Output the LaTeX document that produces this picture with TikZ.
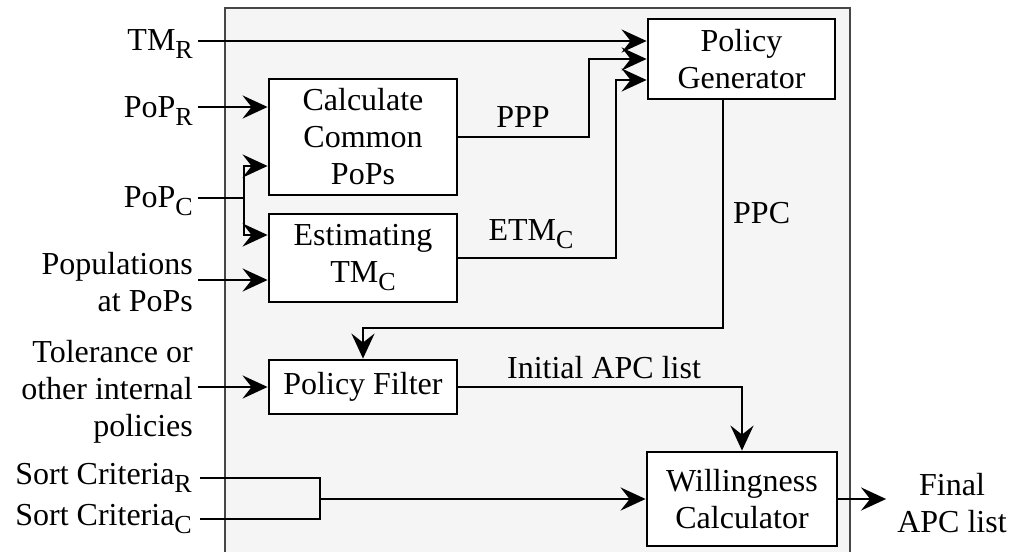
\documentclass[tikz,border=0pt]{standalone}
\usepackage{fontspec}
\setmainfont{Liberation Serif}
\usetikzlibrary{arrows.meta,calc}
\newcommand\sbx[1]{\raisebox{-8pt}{\fontsize{26}{26}\selectfont #1}}
\begin{document}
\begin{tikzpicture}[x=1pt,y=-1pt,
  font=\fontsize{32}{37}\selectfont,
  blk/.style={draw=black,fill=white,line width=2.8pt,inner sep=0pt,align=center},
  arr/.style={line width=2.8pt,-{Stealth[length=25pt,width=23pt,inset=9pt]}},
  ln/.style={line width=2.8pt},
  txt/.style={inner sep=0pt},
  intxt/.style={inner sep=0pt,align=right}]
\useasboundingbox (0,0) rectangle (1013,552);
\draw[draw=black!72,fill=black!4,line width=2pt] (225,8) rectangle (850,575);

% blocks
\node[blk,minimum width=187pt,minimum height=80pt] (pg) at (741.5,59) {Policy\\Generator};
\node[blk,minimum width=188pt,minimum height=116pt] (calc) at (363,137) {Calculate\\Common\\PoPs};
\node[blk,minimum width=188pt,minimum height=88pt] (est) at (363,258) {Estimating\\TM\sbx{C}};
\node[blk,minimum width=188pt,minimum height=54pt] (filt) at (363,387) {Policy Filter};
\node[blk,minimum width=190pt,minimum height=94pt] (will) at (742,499) {Willingness\\Calculator};

% input texts
\node[txt,anchor=base east] (tmr) at (193,50) {TM\sbx{R}};
\node[txt,anchor=base east] (popr) at (193,117) {PoP\sbx{R}};
\node[txt,anchor=base east] (popc) at (193,207) {PoP\sbx{C}};
\node[intxt,anchor=east] (pops) at (193,282) {Populations\\at PoPs};
\node[intxt,anchor=east] (tol) at (193,392) {Tolerance or\\other internal\\policies};
\node[txt,anchor=base east] (scr) at (192,484) {Sort Criteria\sbx{R}};
\node[txt,anchor=base east] (scc) at (192,525) {Sort Criteria\sbx{C}};

% connector start points
\coordinate (tmrE) at (198,41);
\coordinate (poprE) at (198,107);
\coordinate (popcE) at (198,198);
\coordinate (popsE) at (198,280);
\coordinate (tolE) at (198,387);
\coordinate (scrE) at (200,478);
\coordinate (sccE) at (200,519);
\coordinate (sj) at (320,499);
\coordinate (pj) at (244,198);

% labels
\node[txt,anchor=base] (ppp) at (523,127) {PPP};
\node[txt,anchor=base] (etm) at (531,240) {ETM\sbx{C}};
\node[txt,anchor=base west] (ppc) at (733,223) {PPC};
\node[txt,anchor=base] (iapc) at (604,378) {Initial APC list};
\node[align=center,inner xsep=11pt,inner ysep=0pt] (fin) at (952,503) {Final\\APC list};

% connectors
\draw[arr] (tmrE) -- (pg.west |- tmrE);
\draw[arr] (poprE) -- (calc.west |- poprE);
\draw[ln] (popcE) -- (pj);
\draw[arr] (pj) |- (calc.west |- 0,166);
\draw[arr] (pj) |- (est.west |- 0,235);
\draw[arr] (popsE) -- (est.west |- popsE);
\draw[arr] (tolE) -- (filt.west);
\draw[arr] (calc.east) -- (589,137) |- (pg.west);
\draw[arr] (est.east) -- (616,258) |- (pg.west |- 0,80);
\draw[arr] (pg.south -| 723,0) -- (723,328) -| (filt.north);
\draw[arr] (filt.east) -| (will.north);
\draw[ln] (scrE) -| (sj) |- (sccE);
\draw[arr] (sj) -- (will.west);
\draw[arr] (will.east) -- (will.east -| fin.west);
\end{tikzpicture}
\end{document}
